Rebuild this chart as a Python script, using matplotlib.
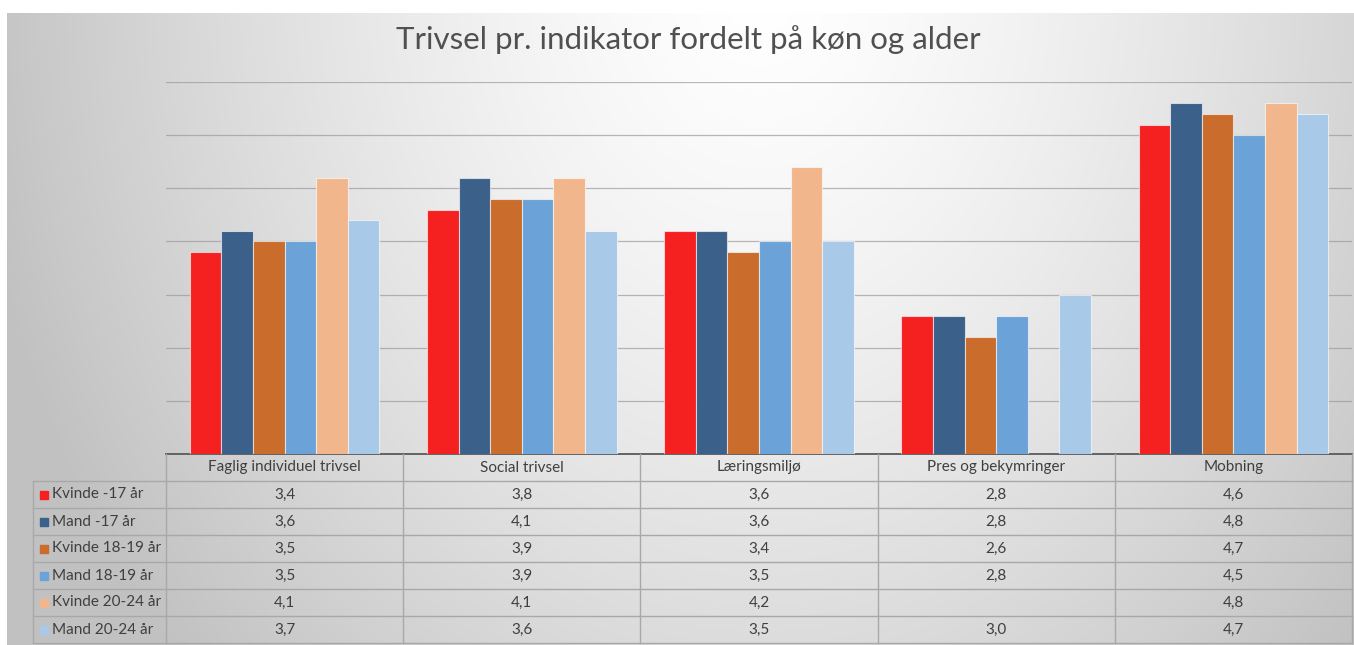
import numpy as np
import matplotlib
matplotlib.use("Agg")
import matplotlib.pyplot as plt
from matplotlib.patches import Rectangle

# Data
categories = ["Faglig individuel trivsel", "Social trivsel", "Læringsmiljø",
              "Pres og bekymringer", "Mobning"]
series_names = ["Kvinde -17 år", "Mand -17 år", "Kvinde 18-19 år",
                "Mand 18-19 år", "Kvinde 20-24 år", "Mand 20-24 år"]
kvinde_17 = [3.4, 3.8, 3.6, 2.8, 4.6]
mand_17 = [3.6, 4.1, 3.6, 2.8, 4.8]
kvinde_18_19 = [3.5, 3.9, 3.4, 2.6, 4.7]
mand_18_19 = [3.5, 3.9, 3.5, 2.8, 4.5]
kvinde_20_24 = [4.1, 4.1, 4.2, np.nan, 4.8]
mand_20_24 = [3.7, 3.6, 3.5, 3.0, 4.7]
series = [kvinde_17, mand_17, kvinde_18_19, mand_18_19, kvinde_20_24, mand_20_24]
colors = ["#F52020", "#3B618A", "#C96C2C", "#6BA3D8", "#F2B68C", "#A9C9E8"]
title = "Trivsel pr. indikator fordelt på køn og alder"

W, H = 1354, 645
FONT = "Lato"

fig = plt.figure(figsize=(W / 100, H / 100), dpi=100)
fig.patch.set_facecolor("white")

# background gradient (pixel coords)
bg = fig.add_axes([0, 0, 1, 1], zorder=0)
bg.set_xlim(0, W)
bg.set_ylim(H, 0)
bg.axis("off")
yy, xx = np.mgrid[13:H, 7:W]
d = np.sqrt(((xx - 760) / 720.0) ** 2 + ((yy + 20) / 900.0) ** 2)
gray = 1 - 0.21 * np.clip(d, 0, 1.1) ** 1.4
img = np.dstack([gray, gray, gray])
bg.imshow(img, extent=[7, W, H, 13], aspect="auto", interpolation="bilinear")

bg.text(688, 40, title, ha="center", va="center", fontsize=22.5,
        color="#505050", family=FONT)

# main chart
x0, x1 = 166, 1352
ytop, ybase = 82, 454
ax = fig.add_axes([x0 / W, 1 - ybase / H, (x1 - x0) / W, (ybase - ytop) / H],
                  zorder=2)
ax.patch.set_alpha(0)
n = len(series)
bw = 0.8 / n
x = np.arange(len(categories))
for i, (vals, c) in enumerate(zip(series, colors)):
    ax.bar(x - 0.4 + bw * (i + 0.5), vals, width=bw, color=c,
           edgecolor=(1, 1, 1, 0.6), linewidth=0.8, zorder=3)
ax.set_xlim(-0.5, len(categories) - 0.5)
ax.set_ylim(1.5, 5.0)
ax.set_yticks(np.arange(2.0, 5.01, 0.5))
ax.yaxis.grid(True, color="#9a9a9a", linewidth=0.9, alpha=0.7)
ax.set_axisbelow(True)
ax.tick_params(left=False, bottom=False, labelleft=False, labelbottom=False)
for s in ["top", "right", "left"]:
    ax.spines[s].set_visible(False)
ax.spines["bottom"].set_color("#595959")
ax.spines["bottom"].set_linewidth(1.3)

# data table
tab = fig.add_axes([0, 0, 1, 1], zorder=3)
tab.patch.set_alpha(0)
tab.set_xlim(0, W)
tab.set_ylim(H, 0)
tab.axis("off")
line_c = "#a8a8a8"
txt_c = "#3f3f3f"
fs = 11
row_h = 27
col_w = (x1 - x0) / len(categories)
lab_x0 = 33
rows_top = ybase + row_h
bottom = ybase + row_h * (n + 1)

for j in range(len(categories) + 1):
    xc = x0 + col_w * j
    tab.plot([xc, xc], [ybase, bottom], color=line_c, lw=1)
for r in range(n + 1):
    yl = rows_top + row_h * r
    tab.plot([lab_x0, x1], [yl, yl], color=line_c, lw=1)
tab.plot([lab_x0, lab_x0], [rows_top, bottom], color=line_c, lw=1)

for j, cat in enumerate(categories):
    tab.text(x0 + col_w * (j + 0.5), ybase + row_h / 2, cat, ha="center",
             va="center", fontsize=fs, color=txt_c, family=FONT)

for i, (name, vals, c) in enumerate(zip(series_names, series, colors)):
    yc = rows_top + row_h * (i + 0.5)
    tab.add_patch(Rectangle((40, yc - 4), 8, 8, color=c))
    tab.text(52, yc, name, ha="left", va="center", fontsize=fs,
             color=txt_c, family=FONT)
    for j, v in enumerate(vals):
        if np.isnan(v):
            continue
        tab.text(x0 + col_w * (j + 0.5), yc, f"{v:.1f}".replace(".", ","),
                 ha="center", va="center", fontsize=fs, color=txt_c,
                 family=FONT)

fig.savefig("out.png", dpi=100)
